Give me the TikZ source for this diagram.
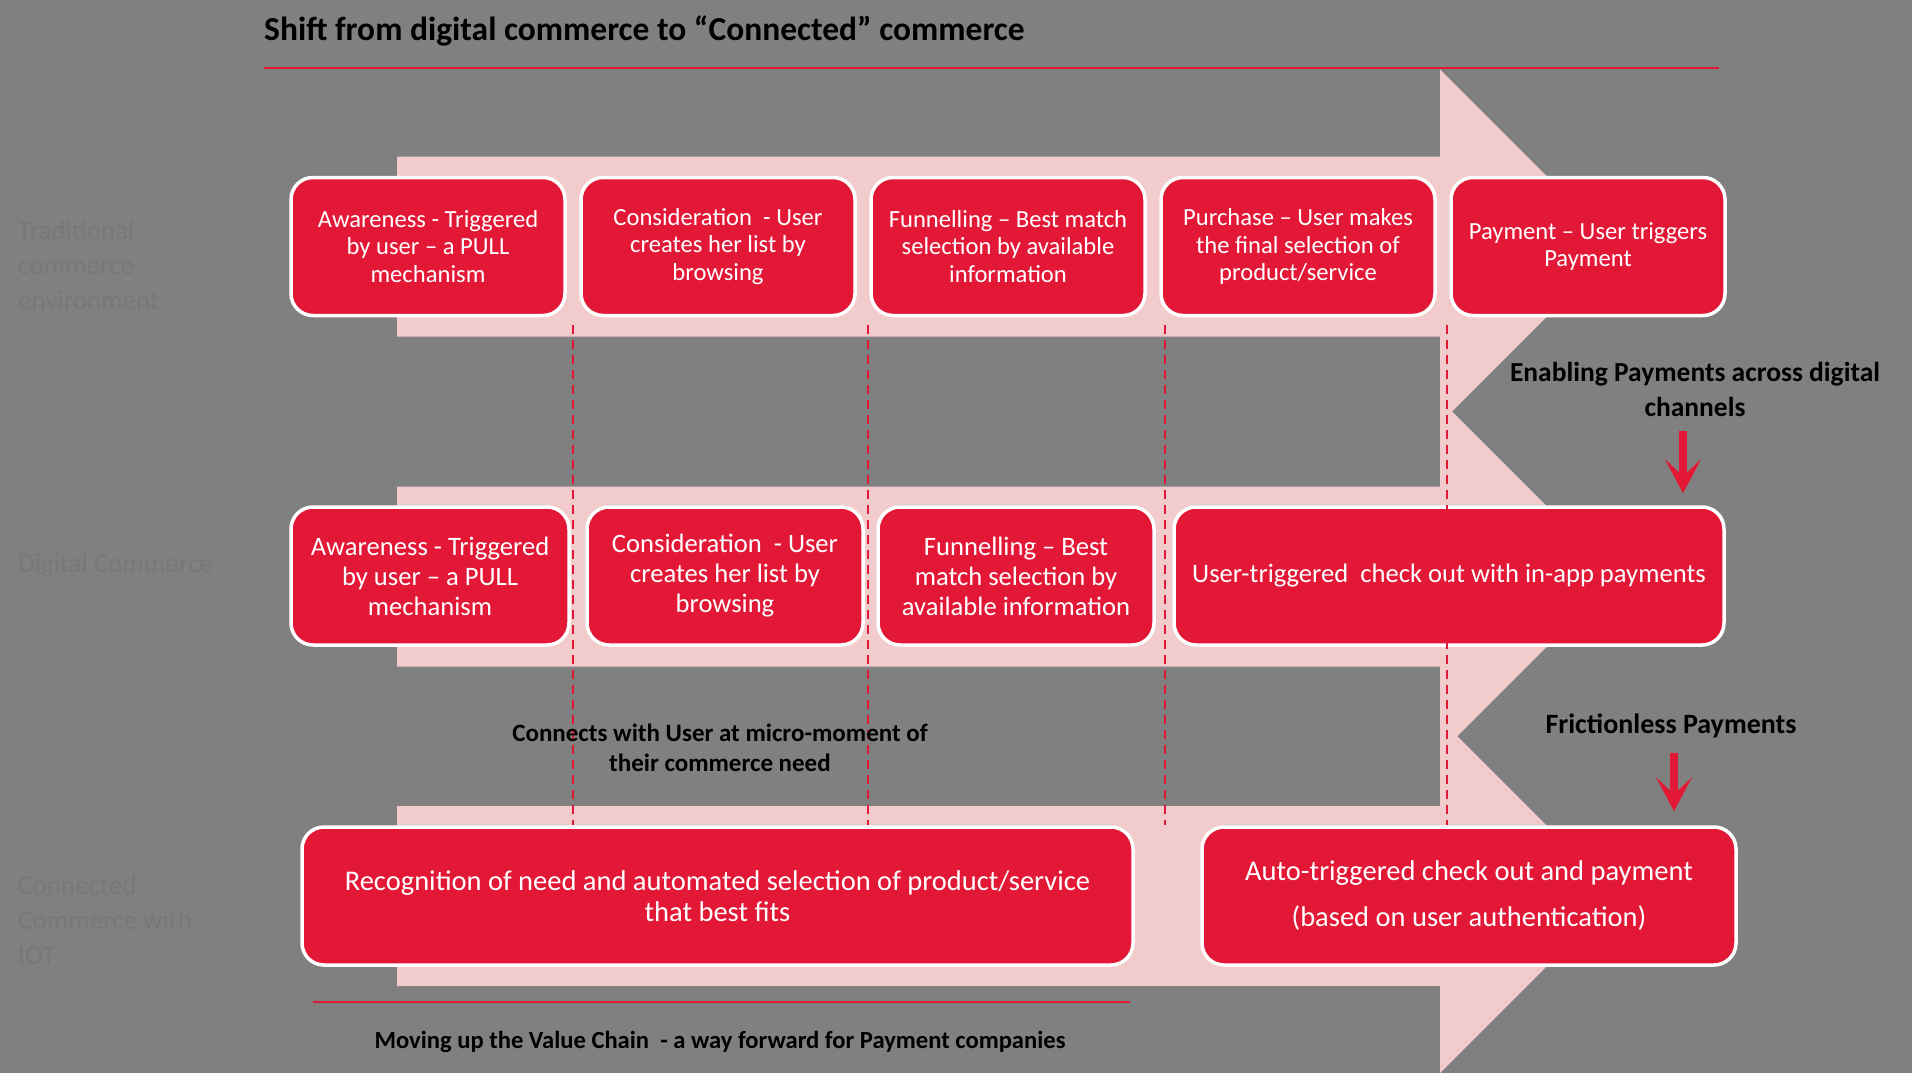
\documentclass[tikz,border=0pt]{standalone}
\usepackage{fontspec}
\setmainfont{Carlito}
\usepackage{tikz}
\usetikzlibrary{arrows.meta}
\definecolor{canvas}{HTML}{808080}
\definecolor{crimson}{HTML}{E31837}
\definecolor{blush}{HTML}{F2CBCC}
\definecolor{faint}{HTML}{787878}
\tikzset{
  >={Stealth[length=34pt,width=36pt,inset=17pt]},
  stagebox/.style={draw=white,fill=crimson,line width=3.5pt,rounded corners=22pt,text=white,align=center,inner sep=0pt,minimum height=138pt},
  tradtext/.style={font=\fontsize{24.6}{27.5}\selectfont},
  digtext/.style={font=\fontsize{26.6}{30}\selectfont},
  iottext/.style={font=\fontsize{28.5}{31}\selectfont},
  rowlabel/.style={anchor=west,align=left,text=faint,inner sep=0pt,font=\fontsize{27}{35}\selectfont},
  callout/.style={align=center,inner sep=0pt,font=\bfseries\fontsize{27.5}{35}\selectfont},
  band/.style={fill=blush},
  divider/.style={crimson,line width=2pt,dash pattern=on 9pt off 6pt},
  redrule/.style={crimson,line width=2.5pt},
  pointer/.style={->,crimson,line width=8pt},
}

\begin{document}
\begin{tikzpicture}[x=1pt,y=-1pt]
  \fill[canvas] (0,0) rectangle (1912,1073);
  \useasboundingbox (0,0) rectangle (1912,1073);

  \node[anchor=base west,inner sep=0pt,font=\bfseries\fontsize{33.5}{40}\selectfont] (title) at (264,41) {Shift from digital commerce to “Connected” commerce};
  \draw[redrule] (264,68) -- (1719,68);

  \foreach \c in {246.5,576.5,896}
    \fill[band] (397,\c-90) -- (1440,\c-90) -- (1440,\c-177) -- (1617,\c) -- (1440,\c+177) -- (1440,\c+90) -- (397,\c+90) -- cycle;

  \node[rowlabel] (lbltrad) at (18,265) {Traditional\\commerce\\environment};
  \node[rowlabel] (lbldig) at (18,565) {Digital Commerce};
  \node[rowlabel] (lbliot) at (18,920) {Connected\\Commerce with\\IOT};

  \node[stagebox,tradtext,minimum width=274pt] (tr1) at (428,246.5) {Awareness - Triggered\\by user – a PULL\\mechanism};
  \node[stagebox,tradtext,minimum width=274pt] (tr2) at (718,246.5) {Consideration~~- User\\creates her list by\\browsing};
  \node[stagebox,tradtext,minimum width=274pt] (tr3) at (1008,246.5) {Funnelling – Best match\\selection by available\\information};
  \node[stagebox,tradtext,minimum width=274pt] (tr4) at (1298,246.5) {Purchase – User makes\\the final selection of\\product/service};
  \node[stagebox,tradtext,minimum width=274pt] (tr5) at (1588,246.5) {Payment – User triggers\\Payment};

  \node[stagebox,digtext,minimum width=278pt] (dg1) at (430,576) {Awareness - Triggered\\by user – a PULL\\mechanism};
  \node[stagebox,digtext,minimum width=276pt] (dg2) at (725,576) {Consideration~~- User\\creates her list by\\browsing};
  \node[stagebox,digtext,minimum width=276pt] (dg3) at (1016,576) {Funnelling – Best\\match selection by\\available information};
  \node[stagebox,digtext,minimum width=550pt] (dg4) at (1449,576) {User-triggered~~check out with in-app payments};

  \node[stagebox,iottext,minimum width=831pt] (cn1) at (717.5,896) {Recognition of need and automated selection of product/service\\that best fits};
  \node[stagebox,iottext,font=\fontsize{28.5}{46}\selectfont,minimum width=534pt] (cn2) at (1469,896) {Auto-triggered check out and payment\\(based on user authentication)};

  \foreach \x in {573,868,1165,1447}
    \draw[divider] (\x,325) -- (\x,825);

  \node[callout] (enabling) at (1695,389) {Enabling Payments across digital\\channels};
  \node[callout,font=\bfseries\fontsize{28}{35}\selectfont] (frictionless) at (1671,726) {Frictionless Payments};
  \node[callout,font=\bfseries\fontsize{25}{30}\selectfont] (connects) at (720,748) {Connects with User at micro-moment of\\their commerce need};

  \draw[pointer,shorten <=15pt,shorten >=12pt] ([xshift=-12pt]enabling.south) -- ([xshift=-12pt]enabling.south |- dg4.north);
  \draw[pointer,shorten <=15pt,shorten >=14pt] ([xshift=3pt]frictionless.south) -- ([xshift=3pt]frictionless.south |- cn2.north);

  \draw[redrule] (313,1002) -- (1130,1002);
  \node[callout,font=\bfseries\fontsize{24.6}{30}\selectfont] (valuechain) at (720,1042) {Moving up the Value Chain~~- a way forward for Payment companies};
\end{tikzpicture}
\end{document}
